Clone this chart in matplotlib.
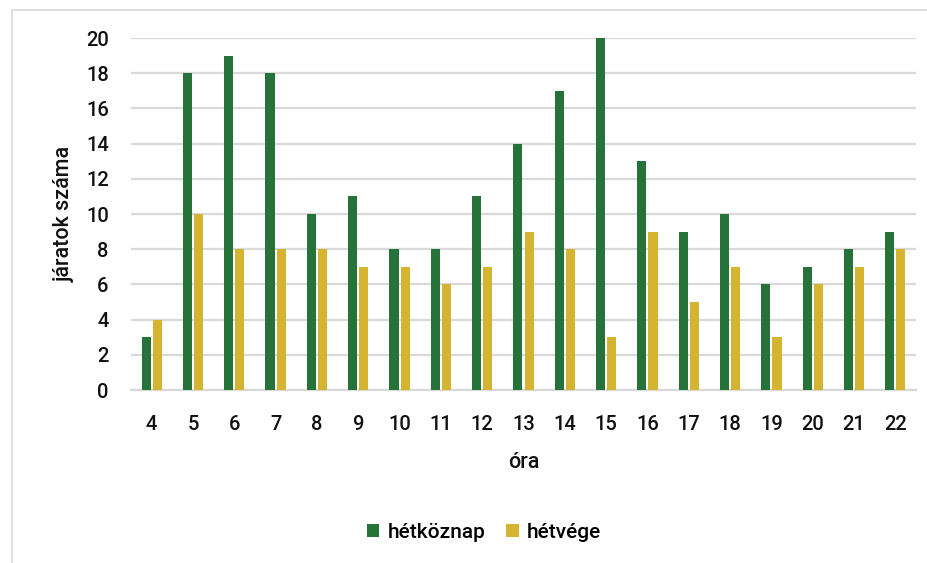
import numpy as np
import matplotlib.pyplot as plt
from matplotlib.patches import Rectangle

hours = [4, 5, 6, 7, 8, 9, 10, 11, 12, 13, 14, 15, 16, 17, 18, 19, 20, 21, 22]
weekday = [3, 18, 19, 18, 10, 11, 8, 8, 11, 14, 17, 20, 13, 9, 10, 6, 7, 8, 9]
weekend = [4, 10, 8, 8, 8, 7, 7, 6, 7, 9, 8, 3, 9, 5, 7, 3, 6, 7, 8]

green = "#267339"
yellow = "#D4B431"

plt.rcParams['font.family'] = ['Roboto', 'DejaVu Sans']
plt.rcParams['font.weight'] = 'medium'
plt.rcParams['axes.labelweight'] = 'medium'

fig = plt.figure(figsize=(9.28, 5.63), dpi=100)
# light frame round the chart area (runs off the right and bottom edges)
fig.patches.append(Rectangle((12 / 928, -0.05), 1.1, 1.05 - 10 / 563, transform=fig.transFigure,
                             fill=False, edgecolor="#d9d9d9", linewidth=1.2))

ax = fig.add_axes([131 / 928, 1 - 390 / 563, (916 - 131) / 928, (390 - 38) / 563])

x = np.arange(len(hours))
w = 0.22
ax.bar(x - w / 2 - 0.025, weekday, width=w, color=green, label="hétköznap", zorder=3)
ax.bar(x + w / 2 + 0.025, weekend, width=w, color=yellow, label="hétvége", zorder=3)

ax.set_xlim(-0.5, len(hours) - 0.5)
ax.set_ylim(0, 20)
ax.set_yticks(range(0, 21, 2))
ax.set_xticks(x)
ax.set_xticklabels([str(h) for h in hours])
ax.yaxis.grid(True, color="#d9d9d9", linewidth=1.6, zorder=0)
ax.set_axisbelow(True)
for s in ["top", "right", "left"]:
    ax.spines[s].set_visible(False)
ax.spines["bottom"].set_color("#d9d9d9")
ax.spines["bottom"].set_linewidth(1.6)
ax.tick_params(axis="both", length=0, labelsize=14.5, colors="#111111")
ax.tick_params(axis="x", pad=18)
ax.tick_params(axis="y", pad=16)

ax.set_xlabel("óra", fontsize=15.5, labelpad=13, color="#111111")
ax.set_ylabel("járatok száma", fontsize=15.5, labelpad=8, color="#111111")

fig.legend(loc="center", bbox_to_anchor=(484 / 928, 1 - 532 / 563), ncol=2, frameon=False,
           fontsize=15, handlelength=0.6, handleheight=0.6, columnspacing=1.0, handletextpad=0.4)

fig.savefig("out.png", dpi=100)
